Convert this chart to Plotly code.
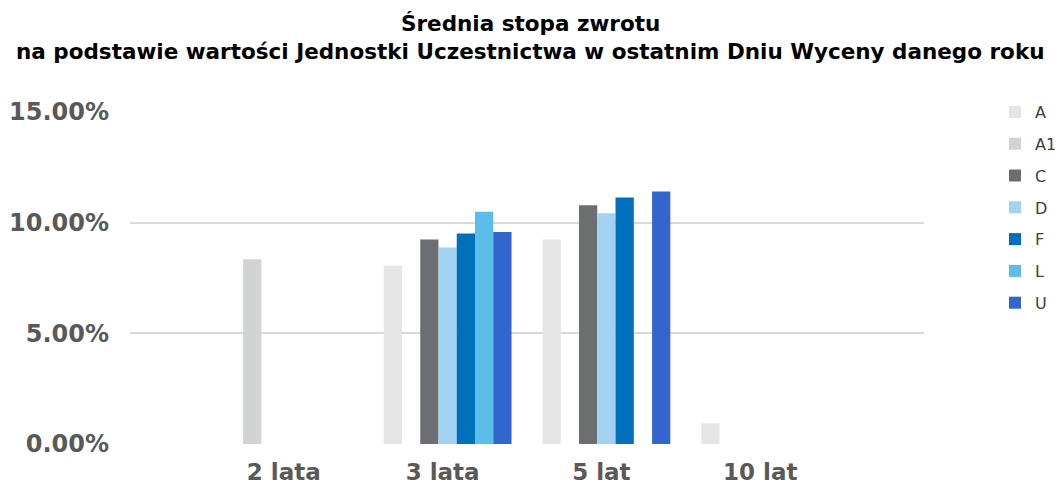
import plotly.graph_objects as go

categories = ["2 lata", "3 lata", "5 lat", "10 lat"]
series_names = ["A", "A1", "C", "D", "F", "L", "U"]
series_colors = ["#E5E5E5", "#D1D3D4", "#6D6E71", "#A1D2F2", "#0070BA", "#5BBDE8", "#3366CC"]
A = [None, 8.05, 9.24, 0.93]
A1 = [8.35, None, None, None]
C = [None, 9.24, 10.79, None]
D = [None, 8.88, 10.42, None]
F = [None, 9.51, 11.14, None]
L = [None, 10.49, None, None]
U = [None, 9.58, 11.41, None]
series_values = [A, A1, C, D, F, L, U]
y_ticks = [0, 5, 10, 15]
title_lines = [
    "Średnia stopa zwrotu",
    "na podstawie wartości Jednostki Uczestnictwa w ostatnim Dniu Wyceny danego roku",
]

# page body has an 8px margin; figure is sized/positioned to compensate
W, H = 1055, 478
ML, MR, MT, MB = 122, 139, 104, 42
PH = H - MT - MB
PW = W - ML - MR

fig = go.Figure()
for name, color, vals in zip(series_names, series_colors, series_values):
    fig.add_trace(go.Bar(
        name=name, x=categories, y=vals, marker_color=color,
        marker_line_width=0, legendgroup=name,
    ))

title_y_px = [15, 44]
for line, ypx in zip(title_lines, title_y_px):
    fig.add_annotation(
        text=line, xref="paper", yref="paper",
        x=(522 - ML) / PW, y=1 + (MT - ypx) / PH,
        xanchor="center", yanchor="middle", showarrow=False,
        font=dict(family="DejaVu Sans", size=21.5, color="#000000", weight="bold"),
    )

fig.update_layout(
    width=W, height=H,
    margin=dict(l=ML, r=MR, t=MT, b=MB, autoexpand=False),
    paper_bgcolor="white", plot_bgcolor="white",
    barmode="group", bargap=0.195, bargroupgap=0,
    font=dict(family="DejaVu Sans"),
    legend=dict(
        x=(987 - ML) / PW, xref="paper", xanchor="left",
        y=1 + 17 / PH, yanchor="top",
        font=dict(family="DejaVu Sans", size=16, color="#404040"),
        tracegroupgap=8, traceorder="grouped",
        itemclick=False,
    ),
    showlegend=True,
)
fig.update_xaxes(
    type="category", range=[-1, 4],
    showgrid=False, showline=False, zeroline=False,
    tickfont=dict(family="DejaVu Sans", size=23, color="#595959", weight="bold"),
    ticklabelstandoff=12, ticklabelshift=-5,
)
fig.update_yaxes(
    range=[0, 15], tickvals=y_ticks,
    ticktext=[f"{v:.2f}%" for v in y_ticks],
    showgrid=True, gridcolor="#D9D9D9", gridwidth=2,
    zeroline=False, showline=False,
    tickfont=dict(family="DejaVu Sans", size=24, color="#595959", weight="bold"),
    ticklabelstandoff=20,
)

fig.write_html("out.html")
